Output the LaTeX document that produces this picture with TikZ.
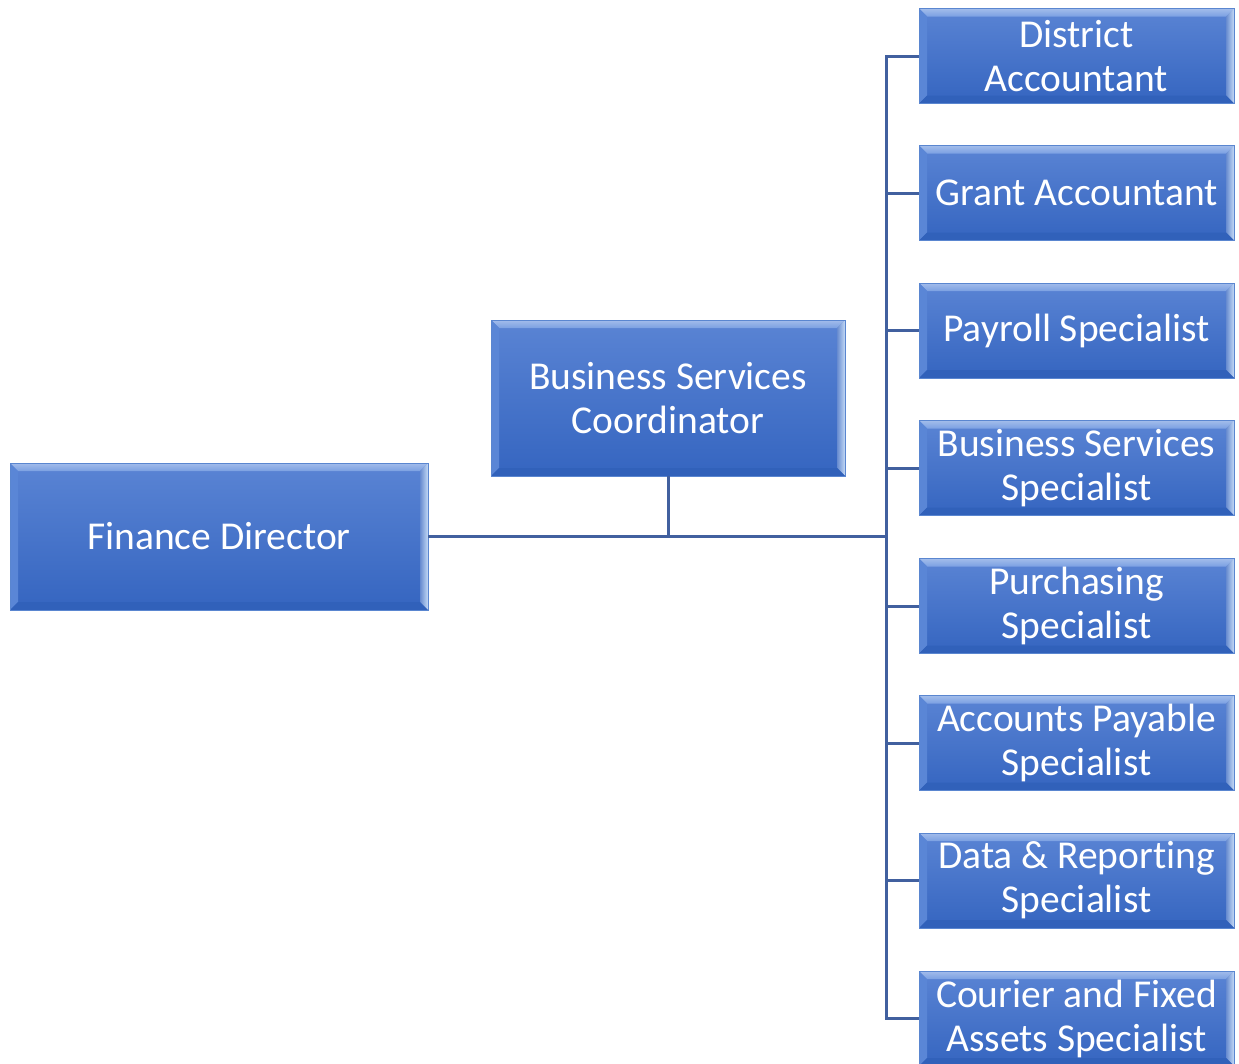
\documentclass[tikz,border=0pt]{standalone}
\usepackage{fontspec}
\setmainfont{Carlito}[Ligatures=NoCommon]
\begin{document}
\begin{tikzpicture}[x=1pt,y=-1pt,
  conn/.style={draw=linkblue,line width=3pt,line join=miter},
  box/.style={rectangle,inner sep=0pt,text=white,align=center,
    font=\fontsize{39.5}{44}\selectfont,
    top color=boxtop,bottom color=boxbot,
    draw=boxedge,line width=0.8pt,
    path picture={
      \def\b{8pt}
      \coordinate (nw) at (path picture bounding box.north west);
      \coordinate (ne) at (path picture bounding box.north east);
      \coordinate (sw) at (path picture bounding box.south west);
      \coordinate (se) at (path picture bounding box.south east);
      % top bevel
      \shade[top color=bevtop!70!white,bottom color=bevtop] (nw) -- (ne) -- ([xshift=-\b,yshift=-\b]ne) -- ([xshift=\b,yshift=-\b]nw) -- cycle;
      % right bevel
      \shade[left color=boxbot!75!white,right color=bevright] (ne) -- (se) -- ([xshift=-\b,yshift=\b]se) -- ([xshift=-\b,yshift=-\b]ne) -- cycle;
      % left bevel
      \fill[bevleft] (nw) -- (sw) -- ([xshift=\b,yshift=\b]sw) -- ([xshift=\b,yshift=-\b]nw) -- cycle;
      % bottom bevel
      \fill[bevbot] (sw) -- (se) -- ([xshift=-\b,yshift=\b]se) -- ([xshift=\b,yshift=\b]sw) -- cycle;
    }},
  rbox/.style={box,minimum width=315pt,minimum height=95pt}]
\definecolor{linkblue}{HTML}{41609F}
\definecolor{boxtop}{HTML}{5A84D4}
\definecolor{boxbot}{HTML}{3565C0}
\definecolor{boxedge}{HTML}{5A86D0}
\definecolor{bevtop}{HTML}{7BA0E2}
\definecolor{bevright}{HTML}{C4DAF6}
\definecolor{bevleft}{HTML}{5A86D6}
\definecolor{bevbot}{HTML}{3161BA}

\useasboundingbox (0,0) rectangle (1239,1063);

% top level and coordinator
\node[box,minimum width=418pt,minimum height=147pt] (fd) at (219,536.5) {Finance Director};
\node[box,minimum width=354pt,minimum height=156pt] (bsc) at (668,398) {Business Services\\Coordinator};

% staff column
\node[rbox] (da) at (1076.5,56)   {District\\Accountant};
\node[rbox] (ga) at (1076.5,193)  {Grant Accountant};
\node[rbox] (ps) at (1076.5,330.5){Payroll Specialist};
\node[rbox] (bs) at (1076.5,468)  {Business Services\\Specialist};
\node[rbox] (pu) at (1076.5,606)  {Purchasing\\Specialist};
\node[rbox] (ap) at (1076.5,743)  {Accounts Payable\\Specialist};
\node[rbox] (dr) at (1076.5,880.5){Data \& Reporting\\Specialist};
\node[rbox] (cf) at (1076.5,1018.5){Courier and Fixed\\Assets Specialist};

% connectors
\coordinate (j) at (886,536.5);
\draw[conn] (fd.east) -- (j);
\draw[conn] (bsc.south) -- (bsc.south |- j);
\foreach \n in {da,ga,ps,bs,pu,ap,dr,cf}
  \draw[conn] (j) |- (\n.west);
\end{tikzpicture}
\end{document}
